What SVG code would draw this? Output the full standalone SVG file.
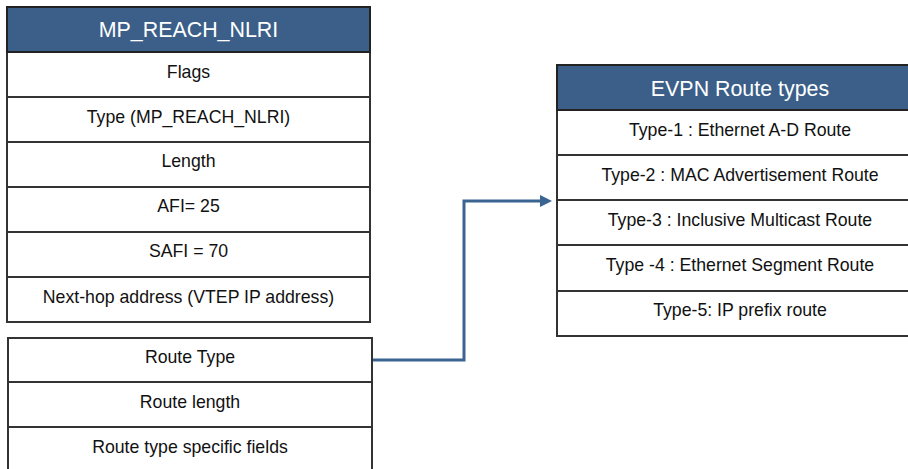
<svg xmlns="http://www.w3.org/2000/svg" width="908" height="469" viewBox="0 0 908 469">
<style>
.box{fill:#fff;stroke:#333;stroke-width:2}
.hdr{fill:#3b5f89;stroke:#222;stroke-width:2}
.ln{stroke:#333;stroke-width:2}
.t{font-family:"Liberation Sans",Arial,sans-serif;font-size:17.7px;fill:#111;text-anchor:middle;dominant-baseline:central}
.h{font-family:"Liberation Sans",Arial,sans-serif;font-size:21.4px;fill:#fff;text-anchor:middle;dominant-baseline:central}
.conn{fill:none;stroke:#3a6593;stroke-width:3}
</style>
<defs>
<marker id="ah" markerWidth="12" markerHeight="12" refX="8" refY="6" orient="auto" markerUnits="userSpaceOnUse">
<path d="M0,0 L12,6 L0,12 Z" fill="#3a6593"/>
</marker>
</defs>
<g id="mp_reach_nlri">
<rect class="box" x="7" y="7" width="363" height="315"/>
<rect class="hdr" x="7" y="7" width="363" height="45"/>
<text class="h" x="188.5" y="30">MP_REACH_NLRI</text>
<line class="ln" x1="7" y1="97" x2="370" y2="97"/>
<line class="ln" x1="7" y1="142" x2="370" y2="142"/>
<line class="ln" x1="7" y1="187" x2="370" y2="187"/>
<line class="ln" x1="7" y1="232" x2="370" y2="232"/>
<line class="ln" x1="7" y1="277" x2="370" y2="277"/>
<text class="t" x="188.5" y="72">Flags</text>
<text class="t" x="188.5" y="117">Type (MP_REACH_NLRI)</text>
<text class="t" x="188.5" y="161">Length</text>
<text class="t" x="188.5" y="206">AFI= 25</text>
<text class="t" x="188.5" y="251">SAFI = 70</text>
<text class="t" x="188.5" y="297">Next-hop address (VTEP IP address)</text>
</g>
<g id="route_fields">
<rect class="box" x="8" y="338" width="364" height="140"/>
<line class="ln" x1="8" y1="382" x2="372" y2="382"/>
<line class="ln" x1="8" y1="427" x2="372" y2="427"/>
<text class="t" x="190" y="357">Route Type</text>
<text class="t" x="190" y="402">Route length</text>
<text class="t" x="190" y="447">Route type specific fields</text>
</g>
<g id="evpn_route_types">
<rect class="box" x="557" y="65" width="360" height="271"/>
<rect class="hdr" x="557" y="65" width="360" height="45"/>
<text class="h" x="740" y="89">EVPN Route types</text>
<line class="ln" x1="557" y1="155" x2="917" y2="155"/>
<line class="ln" x1="557" y1="200" x2="917" y2="200"/>
<line class="ln" x1="557" y1="245" x2="917" y2="245"/>
<line class="ln" x1="557" y1="291" x2="917" y2="291"/>
<text class="t" x="740" y="130">Type-1 : Ethernet A-D Route</text>
<text class="t" x="740" y="175">Type-2 : MAC Advertisement Route</text>
<text class="t" x="740" y="220">Type-3 : Inclusive Multicast Route</text>
<text class="t" x="740" y="265">Type -4 : Ethernet Segment Route</text>
<text class="t" x="740" y="310">Type-5: IP prefix route</text>
</g>
<g id="connectors">
<path class="conn" d="M373,360 H464 V201 H548" marker-end="url(#ah)"/>
</g>
</svg>
